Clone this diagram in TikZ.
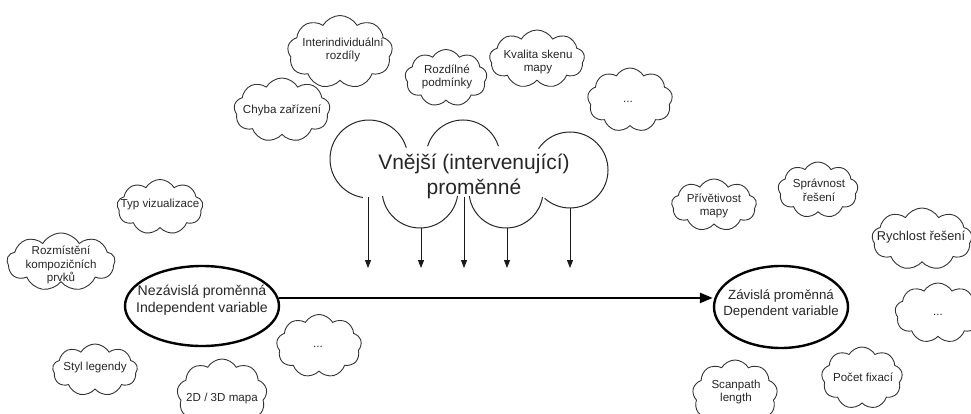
\documentclass[tikz,border=0pt]{standalone}
\usepackage{fontspec}
\setmainfont{Liberation Sans}
\usetikzlibrary{shapes.symbols,shapes.geometric,arrows.meta}
\begin{document}
\begin{tikzpicture}[x=1pt,y=-1pt,
  cl/.style={cloud, draw=black!80, line width=0.9pt, cloud puffs=9, cloud puff arc=120,
    cloud ignores aspect, inner sep=0pt},
  ct/.style={font=\fontsize{11.6}{13.8}\selectfont, align=center, text=black!85, inner sep=0pt},
  ell/.style={ellipse, draw=black, line width=2.4pt, inner sep=0pt},
  et/.style={align=center, text=black!85, inner sep=0pt},
  bigc/.style={draw=black!85, line width=1pt},
  sarrow/.style={draw=black!90, line width=1pt, -{Triangle[length=8pt,width=6pt]}},
  marrow/.style={draw=black, line width=2.6pt, -{Triangle[length=13pt,width=10pt]}}
]
\useasboundingbox (0,0) rectangle (971,414);

% clouds
\node[cl, minimum width=105pt, minimum height=73pt] (c1) at (340,52) {};
\node[ct] (t1) at (343,50) {Interindividuální\\rozdíly};
\node[cl, minimum width=96pt, minimum height=64pt] (c2) at (282,110) {};
\node[ct] (t2) at (282,110) {Chyba zařízení};
\node[cl, minimum width=82pt, minimum height=57pt] (c3) at (446,78) {};
\node[ct] (t3) at (447,77) {Rozdílné\\podmínky};
\node[cl, minimum width=95pt, minimum height=58pt] (c4) at (537,59) {};
\node[ct] (t4) at (538,62) {Kvalita skenu\\mapy};
\node[cl, minimum width=85pt, minimum height=64pt] (c5) at (630,100) {};
\node[ct] (t5) at (628,102) {...};
\node[cl, minimum width=86pt, minimum height=55pt] (c6) at (160,207) {};
\node[ct] (t6) at (160,205) {Typ vizualizace};
\node[cl, minimum width=108pt, minimum height=58pt] (c7) at (61,262) {};
\node[ct] (t7) at (61,265) {Rozmístění\\kompozičních\\prvků};
\node[cl, minimum width=85pt, minimum height=52pt] (c8) at (95,370) {};
\node[ct] (t8) at (95,367) {Styl legendy};
\node[cl, minimum width=90pt, minimum height=72pt] (c9) at (222,395) {};
\node[ct] (t9) at (222,398) {2D / 3D mapa};
\node[cl, minimum width=85pt, minimum height=63pt] (c10) at (319,346) {};
\node[ct] (t10) at (318,347) {...};
\node[cl, minimum width=85pt, minimum height=52pt] (c11) at (714,205) {};
\node[ct] (t11) at (714,206) {Přívětivost\\mapy};
\node[cl, minimum width=80pt, minimum height=56pt] (c12) at (818,190) {};
\node[ct] (t12) at (819,190) {Správnost\\řešení};
\node[cl, minimum width=100pt, minimum height=62pt] (c13) at (922,239) {};
\node[ct, font=\fontsize{12.8}{15}\selectfont] (t13) at (921,237) {Rychlost řešení};
\node[cl, minimum width=86pt, minimum height=60pt] (c14) at (938,313) {};
\node[ct] (t14) at (938,315) {...};
\node[cl, minimum width=81pt, minimum height=62pt] (c15) at (862,378) {};
\node[ct] (t15) at (863,377) {Počet fixací};
\node[cl, minimum width=85pt, minimum height=70pt] (c16) at (735,395) {};
\node[ct] (t16) at (736,392) {Scanpath\\length};

% big cloud
\draw[bigc] (369,159) ++(-99:39pt) arc[start angle=-99, end angle=-343, radius=39pt];
\draw[bigc] (420,190) ++(-171:38pt) arc[start angle=-171, end angle=-9, radius=38pt];
\draw[bigc] (463,157) ++(-197:37pt) arc[start angle=-197, end angle=-343, radius=37pt];
\draw[bigc] (506,191) ++(-172:37pt) arc[start angle=-172, end angle=-9.5, radius=37pt];
\draw[bigc] (570,170) ++(-214:38pt) arc[start angle=-214, end angle=-492, radius=38pt];
\node[font=\fontsize{21}{25}\selectfont, align=center, text=black!85, inner sep=0pt] (ext) at (474,176) {Vnější (intervenující)\\proměnné};

% small arrows
\coordinate (s1) at (368,197); \coordinate (e1) at (368,268);
\coordinate (s2) at (421,228); \coordinate (e2) at (421,268);
\coordinate (s3) at (464,197); \coordinate (e3) at (464,268);
\coordinate (s4) at (507,228); \coordinate (e4) at (507,268);
\coordinate (s5) at (570,208); \coordinate (e5) at (570,268);
\foreach \i in {1,...,5} \draw[sarrow] (s\i) -- (e\i);

% ellipses
\node[ell, minimum width=154pt, minimum height=80pt] (L) at (202,306) {};
\node[et, font=\fontsize{14.1}{16.8}\selectfont] (Lt) at (202,300) {Nezávislá proměnná\\Independent variable};
\node[ell, minimum width=134pt, minimum height=82pt] (R) at (781,307) {};
\node[et, font=\fontsize{13.3}{16}\selectfont] (Rt) at (781,304) {Závislá proměnná\\Dependent variable};

\draw[marrow] (L.6) -- (L.6 -| R.west);
\end{tikzpicture}
\end{document}
